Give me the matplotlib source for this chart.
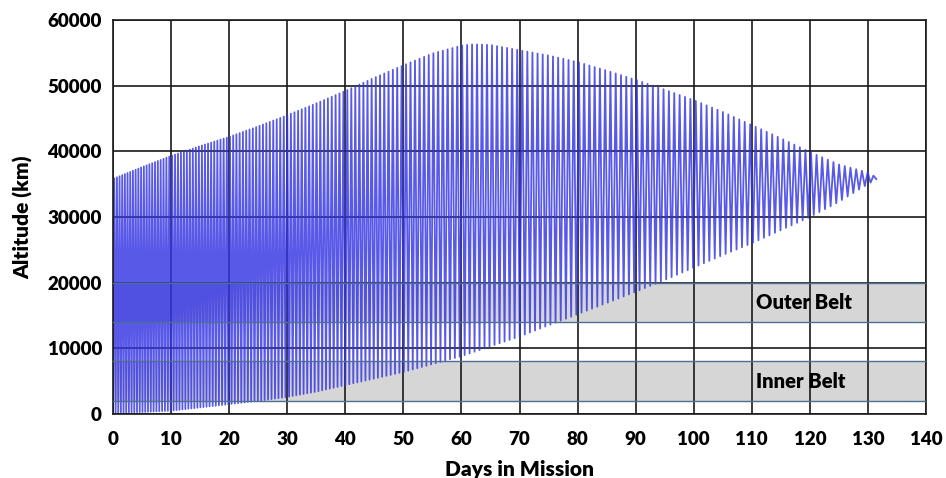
import numpy as np
import matplotlib
matplotlib.use("Agg")
import matplotlib.pyplot as plt

# ---- data ----
env_days = [0, 5, 10, 15, 20, 25, 30, 35, 40, 45, 50, 55, 60, 62, 65, 70, 75,
            80, 85, 90, 95, 100, 105, 110, 115, 120, 125, 130, 131.5]
apogee_km = [35800, 37600, 39300, 40800, 42200, 43800, 45500, 47300, 49200,
             51200, 53100, 54900, 56100, 56300, 56200, 55400, 54600, 53600,
             52300, 50900, 49400, 47800, 46000, 44000, 42000, 39900, 38000,
             36800, 36000]
perigee_km = [200, 300, 500, 1000, 1500, 2000, 2600, 3400, 4400, 5400, 6400,
              7600, 8800, 9400, 10300, 11800, 13500, 15200, 16900, 18600,
              20400, 22300, 24200, 26000, 28000, 30000, 32300, 35000, 35800]
period_days_at = [0, 20, 40, 60, 80, 100, 120, 131.5]
period_days = [0.45, 0.55, 0.68, 0.85, 0.90, 0.93, 0.96, 1.0]

outer_belt = (14000, 20000)
inner_belt = (2000, 8000)
belt_labels = ["Outer Belt", "Inner Belt"]
x_ticks = list(range(0, 141, 10))
y_ticks = list(range(0, 60001, 10000))

# ---- build orbit trace (perigee/apogee turning points) ----
t_end = env_days[-1]
ts, alts = [], []
t = 0.0
while t < t_end:
    P = np.interp(t, period_days_at, period_days)
    ts.append(t)
    alts.append(np.interp(t, env_days, perigee_km))
    ta = t + P / 2
    if ta > t_end:
        break
    ts.append(ta)
    alts.append(np.interp(ta, env_days, apogee_km))
    t += P

plt.rcParams['font.family'] = ['Lato', 'DejaVu Sans']
fig = plt.figure(figsize=(9.46, 4.78), dpi=100)
ax = fig.add_axes([113/946, 1-414/478, (926-113)/946, (414-20)/478])

# belts
belt_edge = '#4f6f93'
for (lo, hi), lab in zip([outer_belt, inner_belt], belt_labels):
    ax.axhspan(lo, hi, color='#d6d6d6', zorder=0.5, lw=0)
    ax.axhline(lo, color=belt_edge, lw=1.0, zorder=3)
    ax.axhline(hi, color=belt_edge, lw=1.0, zorder=3)
    ax.text(110.7, (lo + hi) / 2, lab, ha='left', va='center',
            fontsize=14.5, fontweight='heavy', color='black', zorder=4)

# grid
for xv in x_ticks:
    ax.axvline(xv, color='#1a1a1a', lw=1.2, zorder=1)
for yv in y_ticks:
    ax.axhline(yv, color='#1a1a1a', lw=1.2, zorder=1)

ax.plot(ts, alts, color='#3434e4', lw=1.3, alpha=0.82, zorder=2)

ax.set_xlim(0, 140)
ax.set_ylim(0, 60000)
ax.set_xticks(x_ticks)
ax.set_yticks(y_ticks)
ax.tick_params(axis='x', length=0, labelsize=13.5, pad=12)
ax.tick_params(axis='y', length=0, labelsize=13.5, pad=8)
for lab in ax.get_xticklabels() + ax.get_yticklabels():
    lab.set_fontweight('heavy')
for s in ax.spines.values():
    s.set_color('#1a1a1a')
    s.set_linewidth(1.2)

ax.set_xlabel('Days in Mission', fontsize=15, fontweight='heavy', labelpad=9)
ax.set_ylabel('Altitude (km)', fontsize=15, fontweight='heavy', labelpad=10)

fig.savefig('out.png', dpi=100)
